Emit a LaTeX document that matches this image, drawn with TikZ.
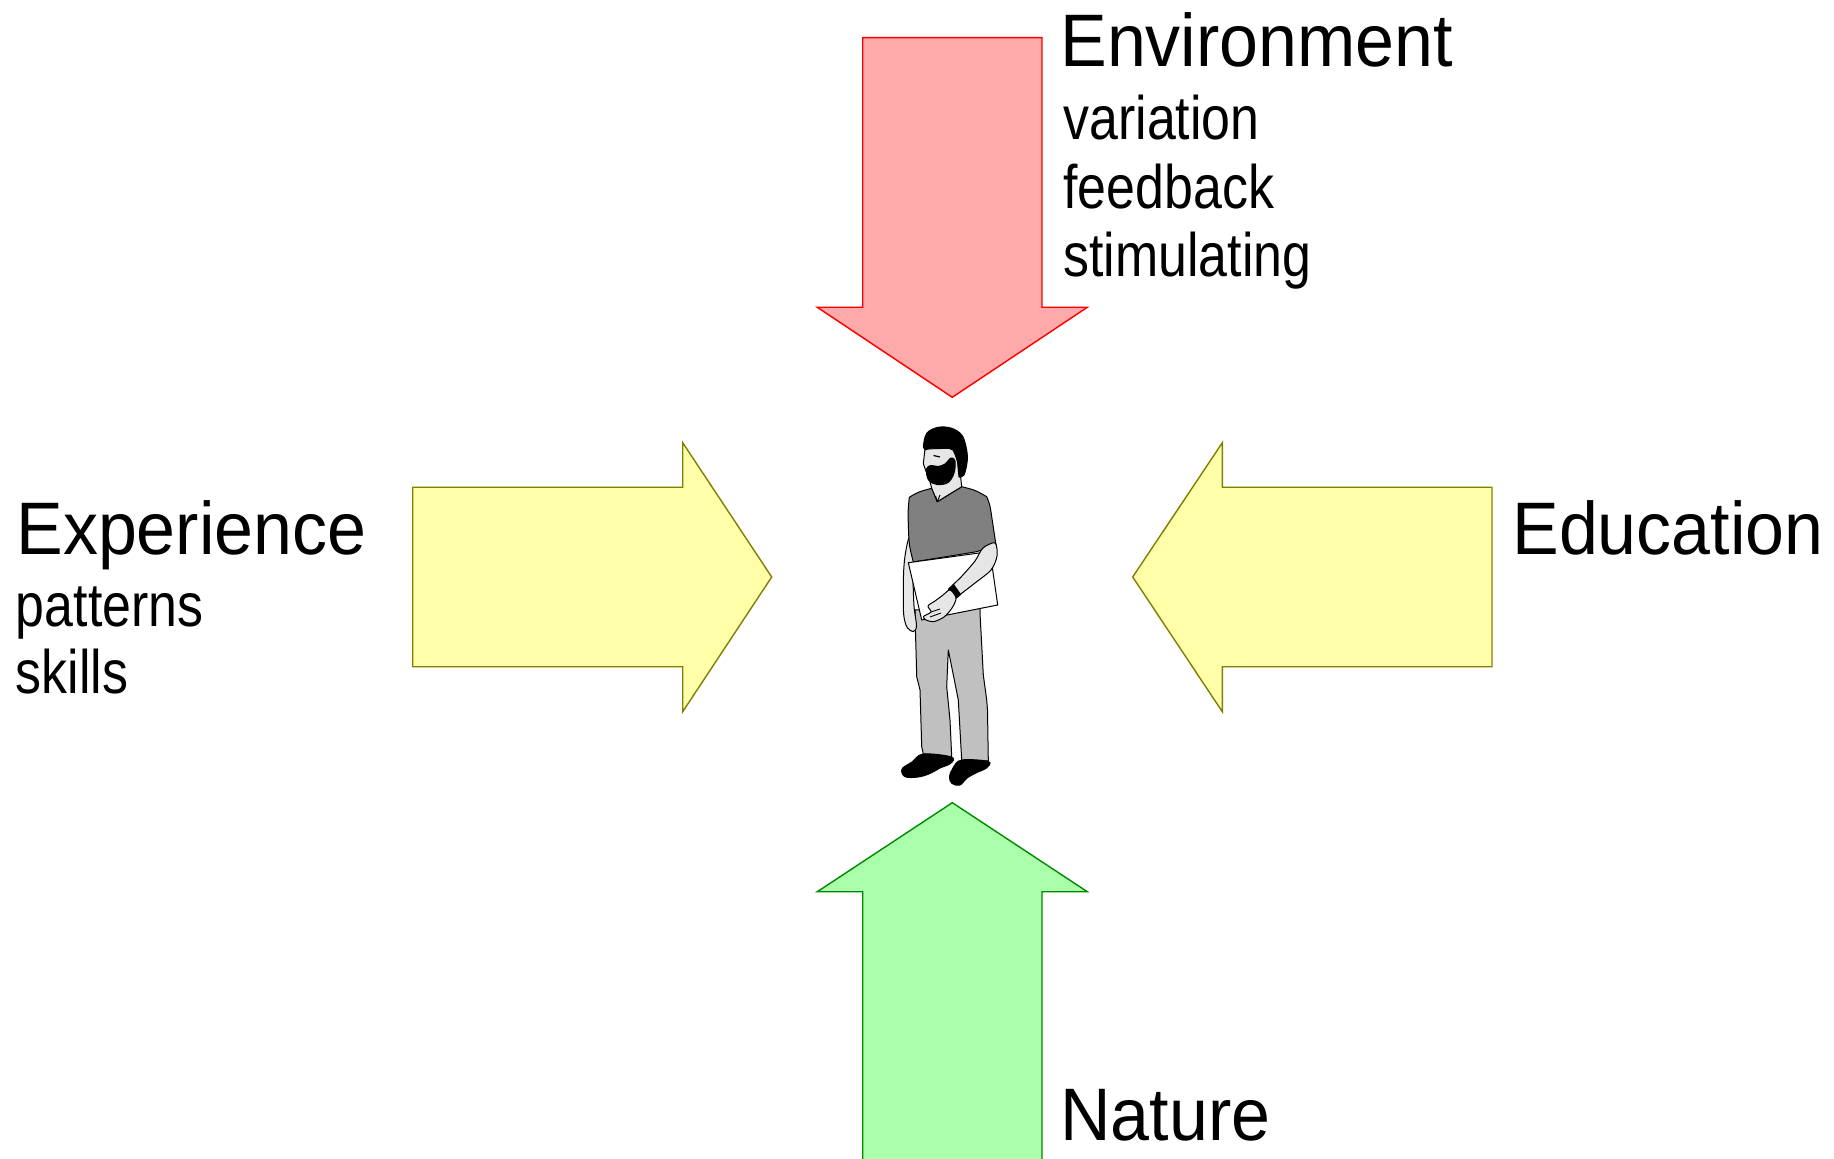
\documentclass[tikz,border=0pt]{standalone}
\usepackage{fontspec}
\newfontfamily\bigfont[FakeStretch=0.94]{Liberation Sans}
\newfontfamily\smallfont[FakeStretch=0.845]{Liberation Sans}
\definecolor{redfill}{HTML}{FFAAAA}
\definecolor{redline}{HTML}{FF0000}
\definecolor{yelfill}{HTML}{FFFFAA}
\definecolor{yelline}{HTML}{808000}
\definecolor{grnfill}{HTML}{AAFFAA}
\definecolor{grnline}{HTML}{008800}
\definecolor{shirt}{HTML}{808080}
\definecolor{pants}{HTML}{C0C0C0}
\definecolor{skin}{HTML}{E6E6E6}
\tikzset{
  bigtxt/.style={anchor=base west, inner sep=0pt, font=\bigfont\fontsize{37.2pt}{40pt}\selectfont},
  smalltxt/.style={anchor=base west, inner sep=0pt, font=\smallfont\fontsize{30.7pt}{34pt}\selectfont},
  arrowshape/.style={line width=0.7pt, line join=miter},
  redarrow/.style={arrowshape, fill=redfill, draw=redline},
  yelarrow/.style={arrowshape, fill=yelfill, draw=yelline},
  grnarrow/.style={arrowshape, fill=grnfill, draw=grnline},
  outline/.style={draw=black, line width=0.5pt, line join=round},
}
\begin{document}
\begin{tikzpicture}[x=0.5pt, y=-0.5pt]
\useasboundingbox (0,0) rectangle (1834,1159);
\clip (0,0) rectangle (1834,1159);
\fill[white] (0,0) rectangle (1834,1159);

% arrows
\draw[redarrow] (862.7,37.7) -- (1042,37.7) -- (1042,307.3) -- (1087.3,307.3)
  -- (952.3,397.3) -- (817.3,307.3) -- (862.7,307.3) -- cycle;
\draw[grnarrow] (862.7,1170) -- (862.7,891.7) -- (817.3,891.7) -- (952.3,802.7)
  -- (1087.3,891.7) -- (1042,891.7) -- (1042,1170);
\draw[yelarrow] (412.7,487.3) -- (682.7,487.3) -- (682.7,442.7) -- (771.7,577)
  -- (682.7,711.7) -- (682.7,666.7) -- (412.7,666.7) -- cycle;
\draw[yelarrow] (1492,487.3) -- (1222.3,487.3) -- (1222.3,442.7) -- (1132.7,577)
  -- (1222.3,711.7) -- (1222.3,666.7) -- (1492,666.7) -- cycle;

% texts
\node[bigtxt] (env) at (1060,66.7) {Environment};
\node[smalltxt] (var) at (1063,140) {variation};
\node[smalltxt] (fee) at (1063,208.5) {feedback};
\node[smalltxt] (sti) at (1063,277) {stimulating};
\node[bigtxt] (exp) at (16,555) {Experience};
\node[smalltxt] (pat) at (15.5,626.7) {patterns};
\node[smalltxt] (ski) at (15.5,693.3) {skills};
\node[bigtxt] (edu) at (1512,555) {Education};
\node[bigtxt] (nat) at (1060,1140) {Nature};

% person
% pants
\filldraw[outline, fill=pants] (915,610) -- (915,616.7) .. controls (916,650) .. (916.7,676.7)
  -- (920,690) -- (921.7,746.7) -- (923.3,754) -- (951.7,757) -- (950,720) -- (946.7,686.7)
  -- (948.3,650) -- (958.3,700) -- (961.7,760.5) -- (988.3,761) -- (987.5,710) -- (986.7,700)
  -- (983.3,675) -- (980,613.3) -- (980,606) -- cycle;
% shoes
\filldraw[outline, fill=black] plot[smooth cycle, tension=0.6] coordinates {
  (923.3,754) (912,762) (902,769) (905,776.7) (918,777) (930,773.5) (940,768) (950.5,763.5) (951.5,757) };
\filldraw[outline, fill=black] plot[smooth cycle, tension=0.6] coordinates {
  (961.7,760) (953,768) (949.5,777) (952,783.5) (960,785) (967,778) (978,772) (986.5,768) (988.3,761.5) };
% left arm
\filldraw[outline, fill=skin] plot[smooth cycle, tension=0.5] coordinates {
  (909,538) (905,556) (903.5,575) (903.3,607) (904.5,620) (907.5,628) (913.3,631.5) (916.5,626) (914,606) (913,575) (914,545) };
% shirt
\filldraw[outline, fill=shirt] (909.3,497.3) .. controls (918,492) .. (931.7,488.3)
  -- (937.3,501.7) -- (961.7,486.7) .. controls (975,490) .. (986.7,496.7)
  .. controls (990,505) .. (991.7,516.7) -- (996,545) -- (976.7,551.7)
  -- (913.3,562) .. controls (909,545) .. (908.3,525) .. controls (908,510) .. cycle;
% neck and face
\filldraw[outline, fill=skin] (931.7,488.3) -- (929,478) -- (925.5,470) -- (923.3,463.5)
  -- (925,449) -- (958,448) -- (960.5,476) -- (961.7,486.7) -- (937.3,501.7) -- cycle;
\draw[black, line width=0.5pt] (937.3,501.7) -- (935.5,496) (937.3,501.7) -- (940,495);
% hair
\filldraw[outline, fill=black] plot[smooth, tension=0.6] coordinates {
  (923.3,447) (926.7,433.3) (938.3,427.3) (951.7,428.3) (961.7,435) (966,446.7) (967.3,460) (964,475) (959,477) }
  -- (957.5,462) .. controls (956,456) and (954,452) .. (953,450)
  .. controls (945,446) and (932,447) .. (925,450) -- cycle;
% beard
\filldraw[outline, fill=black] plot[smooth cycle, tension=0.6] coordinates {
  (926.5,469) (931,465.5) (938,466.5) (945,464) (951,458) (955,461) (954,473) (948,482.5) (937,484.5) (928.5,480) };
% eye
\draw[black, line width=0.6pt] (933.5,455.5) -- (940,457);
% notebook
\filldraw[outline, fill=white] (908.3,562.7) -- (990,551.5) -- (997.7,605) -- (921.7,620) -- cycle;
% right arm (forearm)
\filldraw[outline, fill=skin] plot[smooth cycle, tension=0.5] coordinates {
  (983,548) (995,543) (997,556) (991,570) (975,583) (962,593) (955,598) (949,590) (962,576) (975,561) };
% watch
\filldraw[outline, fill=black] (948.5,589) -- (955.5,598.5) -- (960.5,594.5) -- (953.5,584.5) -- cycle;
% hand
\filldraw[outline, fill=skin] plot[smooth cycle, tension=0.5] coordinates {
  (950,590) (956,598) (952,608) (944,617) (934,621.5) (926,620) (923.5,616.5) (931,612) (928,606) (935,601) (943,595) };
\draw[black, line width=0.45pt] (931,612) -- (940,609) (930,617) -- (941,613);
\end{tikzpicture}
\end{document}
